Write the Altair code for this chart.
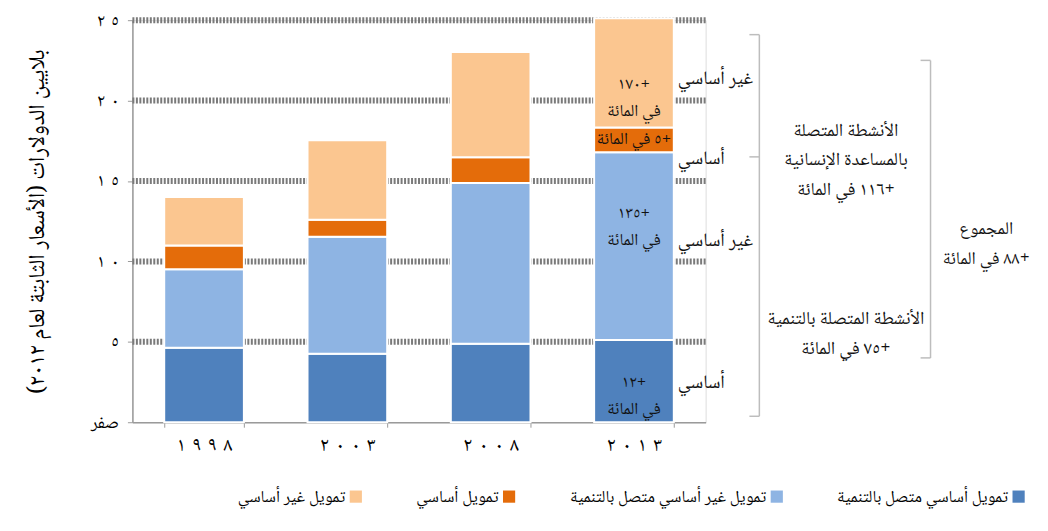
import altair as alt
import pandas as pd

RLM = "\u200f"
LRM = "\u200e"
GAP = LRM + "\u2004" + LRM


def rtl(s):
    return "\n".join(RLM + line + RLM for line in s.split("\n"))


FONT = "Noto Naskh Arabic, Amiri, Noto Sans Arabic, DejaVu Serif, DejaVu Sans"

# ---------------- data ----------------
years = ["١٩٩٨", "٢٠٠٣", "٢٠٠٨", "٢٠١٣"]
series = [
    "تمويل أساسي متصل بالتنمية",
    "تمويل غير أساسي متصل بالتنمية",
    "تمويل أساسي",
    "تمويل غير أساسي",
]
core_dev = [4.63, 4.26, 4.88, 5.12]
noncore_dev = [4.88, 7.28, 10.00, 11.67]
core_hum = [1.48, 1.05, 1.60, 1.54]
noncore_hum = [3.02, 4.94, 6.54, 6.79]
colors = ["#4f81bd", "#8eb4e3", "#e46c0a", "#fbc690"]

y_ticks = [0, 5, 10, 15, 20, 25]
y_tick_labels = ["صفر", "٥", "١٠", "١٥", "٢٠", "٢٥"]
y_title = "بلايين الدولارات (الأسعار الثابتة لعام ٢٠١٢)"

bar_note_text = ["+١٢\nفي المائة", "+١٣٥\nفي المائة", "+٥ في المائة", "+١٧٠\nفي المائة"]
bar_note_y = [2.5, 13.0, 17.6, 21.0]

side_label_text = ["أساسي", "غير أساسي", "أساسي", "غير أساسي"]
side_label_y = [2.5, 11.3, 16.4, 21.4]

group_text = ["الأنشطة المتصلة بالتنمية\n+٧٥ في المائة",
              "الأنشطة المتصلة\nبالمساعدة الإنسانية\n+١١٦ في المائة"]
group_y = [6.5, 18.2]

total_text = ["المجموع\n+٨٨ في المائة"]
total_y = [12.0]

bracket1_ends = [0.37, 24.1]
bracket1_ticks = [0.37, 16.5, 24.1]
bracket2_ends = [4.0, 22.5]
bracket2_ticks = [4.0, 22.5]

# ---------------- tables ----------------
all_vals = [core_dev, noncore_dev, core_hum, noncore_hum]
rows = []
for si, (name, vals) in enumerate(zip(series, all_vals)):
    for yr, v in zip(years, vals):
        rows.append({"year": yr, "series": name, "value": v, "stack": si})
bars_df = pd.DataFrame(rows)

W, H = 576, 404

x_scale = alt.Scale(domain=years, paddingInner=0.444, paddingOuter=0.222)
y_scale = alt.Scale(domain=[0, 25], nice=False)


def spaced(lbl):
    # digits of the reference font are widely spaced
    if all("\u0660" <= ch <= "\u0669" for ch in lbl):
        return LRM + GAP.join(lbl) + LRM
    return lbl


label_expr = " : ".join(
    f"datum.value == {v} ? '{spaced(l)}'" for v, l in zip(y_ticks, y_tick_labels)
) + " : ''"

y_axis = alt.Axis(
    values=y_ticks,
    labelExpr=label_expr,
    labelFontSize=18,
    labelFont=FONT,
    labelColor="#000000",
    labelPadding=9,
    tickSize=5,
    tickColor="#9a9a9a",
    domainColor="#9a9a9a",
    domainWidth=1.5,
    grid=False,
    titleFont=FONT,
    titleFontSize=23,
    titleFontWeight="normal",
    titleColor="#000000",
    titlePadding=42,
)
Y_TITLE = rtl(y_title)


def yenc():
    return alt.Y("value:Q", scale=y_scale, axis=y_axis, title=Y_TITLE)


grid = alt.Chart(pd.DataFrame({"value": y_ticks[1:]})).mark_rule(
    color="#7a7a7a", strokeWidth=6, strokeDash=[2, 1.5]
).encode(
    y=yenc(),
    x=alt.value(0),
    x2=alt.value(W),
)

legend_domain = [series[3], series[2], series[1], series[0]]
legend_range = [colors[3], colors[2], colors[1], colors[0]]

bars = alt.Chart(bars_df).mark_bar(stroke="white", strokeWidth=2).encode(
    x=alt.X(
        "year:N",
        sort=years,
        scale=x_scale,
        title=None,
        axis=alt.Axis(
            labelAngle=0,
            labelFontSize=20,
            labelFont=FONT,
            labelColor="#000000",
            labelPadding=7,
            labelExpr=f"'{LRM}' + join(split(datum.label, ''), '{GAP}') + '{LRM}'",
            tickBand="extent",
            tickSize=5,
            tickColor="#9a9a9a",
            domainColor="#9a9a9a",
            domainWidth=1.5,
        ),
    ),
    y=alt.Y("value:Q", stack="zero", scale=y_scale, axis=y_axis, title=Y_TITLE),
    color=alt.Color(
        "series:N",
        scale=alt.Scale(domain=legend_domain, range=legend_range),
        legend=alt.Legend(
            title=None,
            orient="none",
            legendX=216,
            legendY=470,
            direction="horizontal",
            columns=4,
            columnPadding=54,
            symbolType="square",
            symbolSize=150,
            symbolStrokeWidth=0,
            labelFont=FONT,
            labelFontSize=17,
            labelColor="#000000",
            labelLimit=400,
            labelAlign="right",
            labelOffset={"expr": "-19"},
        ),
    ),
    order=alt.Order("stack:Q", sort="ascending"),
)

bar_notes = alt.Chart(
    pd.DataFrame({"t": [rtl(t) for t in bar_note_text], "value": bar_note_y,
                  "year": [years[3]] * len(bar_note_y)})
).mark_text(font=FONT, fontSize=17, color="#111111", lineBreak="\n",
            lineHeight=27, align="center", baseline="middle").encode(
    x=alt.X("year:N", sort=years, scale=x_scale),
    y=yenc(),
    text="t:N",
)

side_labels = alt.Chart(
    pd.DataFrame({"t": [rtl(t) for t in side_label_text], "value": side_label_y})
).mark_text(font=FONT, fontSize=19, color="#111111", align="left",
            baseline="middle").encode(
    x=alt.value(548),
    y=yenc(),
    text="t:N",
)

group_labels = alt.Chart(
    pd.DataFrame({"t": [rtl(t) for t in group_text], "value": group_y})
).mark_text(font=FONT, fontSize=18.5, color="#111111", align="center",
            baseline="middle", lineBreak="\n", lineHeight=30).encode(
    x=alt.value(717),
    y=yenc(),
    text="t:N",
)

total_labels = alt.Chart(
    pd.DataFrame({"t": [rtl(t) for t in total_text], "value": total_y})
).mark_text(font=FONT, fontSize=18, color="#111111", align="center",
            baseline="middle", lineBreak="\n", lineHeight=30).encode(
    x=alt.value(858),
    y=yenc(),
    text="t:N",
)

BR = "#bdbdbd"
b1_line = alt.Chart(pd.DataFrame({"value": [bracket1_ends[0]], "value2": [bracket1_ends[1]]})).mark_rule(
    color=BR, strokeWidth=1.5).encode(
    x=alt.value(630), y=yenc(), y2="value2:Q")
b1_ticks = alt.Chart(pd.DataFrame({"value": bracket1_ticks})).mark_rule(
    color=BR, strokeWidth=1.5).encode(
    x=alt.value(620), x2=alt.value(630), y=yenc())
b2_line = alt.Chart(pd.DataFrame({"value": [bracket2_ends[0]], "value2": [bracket2_ends[1]]})).mark_rule(
    color=BR, strokeWidth=1.5).encode(
    x=alt.value(802), y=yenc(), y2="value2:Q")
b2_ticks = alt.Chart(pd.DataFrame({"value": bracket2_ticks})).mark_rule(
    color=BR, strokeWidth=1.5).encode(
    x=alt.value(792), x2=alt.value(802), y=yenc())

chart = alt.layer(
    grid, bars, bar_notes, side_labels, group_labels, total_labels,
    b1_line, b1_ticks, b2_line, b2_ticks,
).properties(
    width=W,
    height=H,
    autosize=alt.AutoSizeParams(type="none"),
    padding={"left": 125, "top": 11, "right": 336, "bottom": 95},
).configure_view(stroke=None).configure(background="white")

chart.save("out.html", embed_options={"renderer": "svg", "actions": False})
